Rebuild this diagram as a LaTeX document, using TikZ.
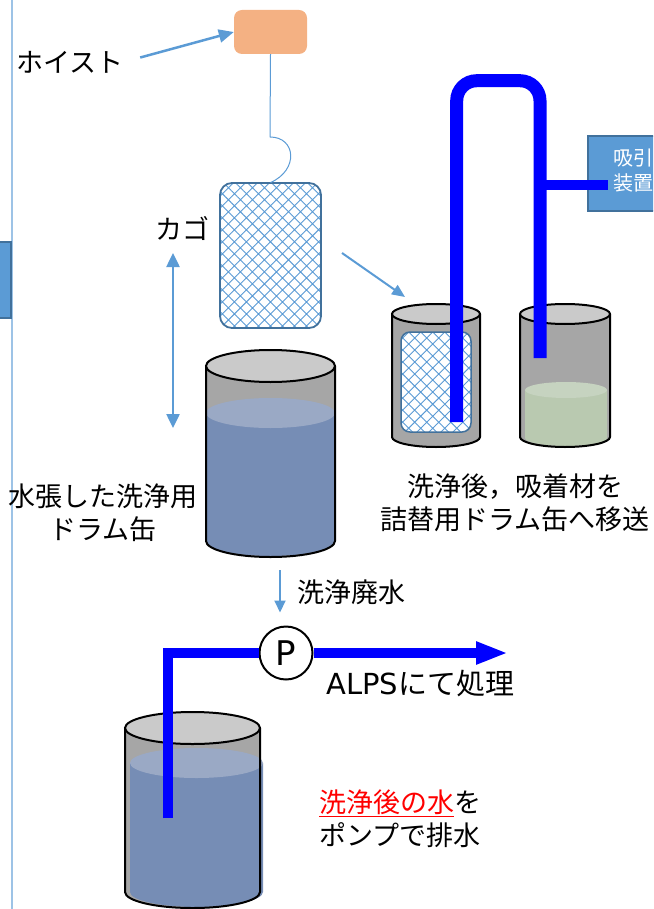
\documentclass[tikz,border=0pt]{standalone}
\usepackage{fontspec}
\setmainfont{Noto Sans CJK JP}
\newfontfamily\widelatin{DejaVu Sans}
\usetikzlibrary{arrows.meta,patterns.meta}

\definecolor{hoistorange}{HTML}{F4B183}
\definecolor{linkblue}{HTML}{5B9BD5}
\definecolor{edgeblue}{HTML}{41719C}
\definecolor{railblue}{HTML}{9DC3E6}
\definecolor{pipeblue}{HTML}{0000FF}
\definecolor{drumgray}{HTML}{A6A6A6}
\definecolor{rimgray}{HTML}{CACACA}
\definecolor{water}{HTML}{768DB5}
\definecolor{watertop}{HTML}{9AA9C5}
\definecolor{sorbent}{HTML}{B9C9B0}
\definecolor{sorbenttop}{HTML}{C6D3C0}

% drum parts: centre x, half width, rim y, base y, rim depth
\newcommand{\drumshell}[5]{%
  \fill[drumgray] ({#1-#2},#3) -- ({#1-#2},#4)
    arc[start angle=180,end angle=0,x radius=#2,y radius=#5] -- ({#1+#2},#3) -- cycle;}
\newcommand{\drumedge}[5]{%
  \draw[rim] ({#1-#2},#3) -- ({#1-#2},#4)
    arc[start angle=180,end angle=0,x radius=#2,y radius=#5] -- ({#1+#2},#3);
  \draw[rim,fill=rimgray] (#1,#3) ellipse[x radius=#2,y radius=#5];}
% liquid: centre x, half width, level, base, depth, body colour, surface colour
\newcommand{\drumfill}[7]{%
  \fill[#6] ({#1-#2},#3) -- ({#1-#2},#4)
    arc[start angle=180,end angle=0,x radius=#2,y radius=#5] -- ({#1+#2},#3) -- cycle;
  \fill[#7] (#1,#3) ellipse[x radius=#2,y radius=#5];}

\tikzset{
  flow/.style={draw=linkblue, line width=2pt, -{Triangle[length=13pt,width=11pt]}},
  pipe/.style={draw=pipeblue, line width=13pt},
  rim/.style={draw=black, line width=2pt},
  basket/.style={draw=edgeblue, line width=1.8pt, rounded corners=12pt,
    preaction={fill=white},
    pattern={Hatch[angle=45,distance=8.5pt,line width=0.9pt]}, pattern color=linkblue},
  caption/.style={font=\fontsize{27}{33}\selectfont, align=center, inner sep=0pt},
  unitbox/.style={fill=linkblue, draw=edgeblue, line width=2pt},
}

\begin{document}
\begin{tikzpicture}[x=1pt,y=-1pt]
  \useasboundingbox (0,0) rectangle (653,909);
  \clip (0,0) rectangle (653,909);

  % side rail and box
  \draw[railblue, line width=1.5pt] (12,0) -- (12,909);
  \node[unitbox, minimum width=30pt, minimum height=76pt, anchor=east] (sidebox) at (12,280) {};

  % hoist
  \node[fill=hoistorange, rounded corners=8pt, minimum width=73pt, minimum height=44pt] (hoist) at (270.5,32) {};
  \node[caption] (hoistlabel) at (70,62) {ホイスト};
  \draw[flow, line width=2.5pt, -{Triangle[length=15pt,width=13pt]}, shorten <=17pt] (hoistlabel.east) -- (hoist.west);

  % rope and basket
  \node[basket, minimum width=101pt, minimum height=145pt] (cage) at (270.5,255.5) {};
  \draw[linkblue, line width=1pt] (hoist.south) -- (270,137)
    .. controls (296,137) and (299,170) .. (cage.north);
  \node[caption] (cagelabel) at (182,228) {カゴ};
  \coordinate (liftTop) at (173,253);
  \coordinate (liftBot) at (173,428);
  \draw[flow, line width=2.5pt, {Triangle[length=14pt,width=13pt]}-{Triangle[length=14pt,width=13pt]}] (liftTop) -- (liftBot);

  % wash drum
  \drumshell{270.5}{64.5}{366}{541}{16}
  \drumfill{270.5}{64.5}{413}{541}{15}{water}{watertop}
  \drumedge{270.5}{64.5}{366}{541}{16}
  \node[caption] (washlabel) at (103,513) {水張した洗浄用\\ドラム缶};

  % transfer to refill drums
  \coordinate (handoff) at (405,297);
  \draw[flow] (342,253) -- (handoff);
  \drumshell{436}{44}{314}{437}{10}
  \drumedge{436}{44}{314}{437}{10}
  \node[basket, line width=1.5pt, rounded corners=9pt, minimum width=70pt, minimum height=100pt] (cageA) at (436,382) {};
  \drumshell{565}{45}{314}{437}{10}
  \drumfill{566}{41}{390}{438}{8}{sorbent}{sorbenttop}
  \drumedge{565}{45}{314}{437}{10}
  \node[caption] (movelabel) at (515,503) {洗浄後，吸着材を\\詰替用ドラム缶へ移送};

  % suction unit and siphon
  \node[unitbox, minimum width=100pt, minimum height=75pt, anchor=north west] (suction) at (587,135) {};
  \node[text=white, font=\fontsize{20}{25}\selectfont, align=left, inner sep=0pt, anchor=west] (suctiontext) at (613,171) {吸引\\装置};
  \draw[pipe, rounded corners=20pt] (456.7,422) -- (456.7,80.7) -- (540,80.7) -- (540,358);
  \draw[pipe, line width=10pt] (540,185) -- (608,185);

  % waste water line
  \node[circle, draw, fill=white, line width=2pt, minimum size=53pt, inner sep=0pt,
    font=\widelatin\fontsize{34}{34}\selectfont] (pump) at (286,653) {P};
  \coordinate (drain) at (280,570);
  \draw[flow, -{Triangle[length=12pt,width=11pt]}, shorten >=13pt] (drain) -- (pump.north -| drain);
  \node[caption, anchor=west] (wastelabel) at (297,592) {洗浄廃水};

  % receiving drum
  \drumshell{192.5}{67.5}{728}{892}{16}
  \drumfill{196.5}{66.5}{763}{892}{15}{water}{watertop}
  \drumedge{192.5}{67.5}{728}{892}{16}
  \coordinate (intake) at (168,818);
  \draw[pipe, line width=10pt] (intake) |- (pump.west);
  \draw[pipe, line width=10pt, -{Triangle[length=32pt,width=21pt]}] (pump.east) -- (508,653);
  \node[caption, anchor=west, font=\fontsize{29}{33}\selectfont] (alpslabel) at (326,684) {{\widelatin ALPS}にて処理};
  \node[caption, anchor=west, align=left] (drainlabel) at (319,819)
    {\textcolor{red}{\underline{洗浄後の水}}を\\ポンプで排水};
\end{tikzpicture}
\end{document}
